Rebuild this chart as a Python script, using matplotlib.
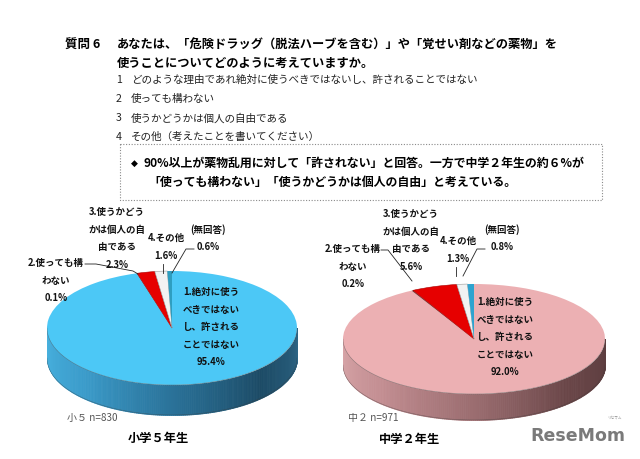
import numpy as np
import matplotlib
matplotlib.use('Agg')
import matplotlib.pyplot as plt
from matplotlib.colors import LinearSegmentedColormap
from matplotlib.patches import Rectangle

plt.rcParams['font.family'] = ['Noto Sans CJK JP', 'DejaVu Sans']

# 回答の選択肢と割合（%）
options = ['1.絶対に使う\nべきではない\nし、許される\nことではない',
           '2.使っても構\nわない',
           '3.使うかどう\nかは個人の自\n由である',
           '4.その他',
           '(無回答)']
shou5 = [95.4, 0.1, 2.3, 1.6, 0.6]
chu2 = [92.0, 0.2, 5.6, 1.3, 0.8]
groups = ['小学５年生', '中学２年生']
n_labels = ['小５ n=830', '中２ n=971']

question = ['あなたは、「危険ドラッグ（脱法ハーブを含む）」や「覚せい剤などの薬物」を',
            '使うことについてどのように考えていますか。']
items = ['どのような理由であれ絶対に使うべきではないし、許されることではない',
         '使っても構わない',
         '使うかどうかは個人の自由である',
         'その他（考えたことを書いてください）']
summary = ['90%以上が薬物乱用に対して「許されない」と回答。一方で中学２年生の約６%が',
           '「使っても構わない」「使うかどうかは個人の自由」と考えている。']

W, H = 640, 460
fig = plt.figure(figsize=(W / 100, H / 100), dpi=100)
fig.patch.set_facecolor('white')


def pie3d(cx, cy, a, b, depth, values, top_cols, side_cmap):
    # 楕円のパイ（上面）＋側面（グラデーション）
    ax = fig.add_axes([(cx - a) / W, 1 - (cy + b + depth) / H,
                       2 * a / W, (2 * b + depth) / H])
    d = depth / b
    th = np.linspace(np.pi, 2 * np.pi, 200)
    xs = np.cos(th)
    for i in range(len(th) - 1):
        xx = [xs[i], xs[i + 1]]
        top = np.sin(th[i:i + 2])
        c = side_cmap(i / (len(th) - 2))
        ax.fill_between(xx, top, top - d, color=c, linewidth=0.6, edgecolor=c)
    ax.plot(xs, np.sin(th) - d, color='#3a3a3a', lw=0.4, alpha=0.5)
    wedges, _ = ax.pie(values, colors=top_cols, startangle=90, counterclock=False,
                       radius=1, wedgeprops=dict(linewidth=0.4, edgecolor='none'))
    wedges[3].set_edgecolor('#999999')
    wedges[2].set_edgecolor('#aa0000')
    ax.plot(xs, np.sin(th), color='#555555', lw=0.4, alpha=0.6)
    ax.set_aspect('auto')
    ax.set_xlim(-1, 1)
    ax.set_ylim(-1 - d, 1)
    ax.axis('off')


blue_side = LinearSegmentedColormap.from_list('bs', ['#49b3e0', '#3b9ccb', '#2a7299', '#1c4b66', '#2d6585'])
pink_side = LinearSegmentedColormap.from_list('ps', ['#d9a7aa', '#c38e92', '#9b6d70', '#6a4648', '#5c3d3f'])

pie3d(172, 329, 125, 57, 30, shou5,
      ['#4cc8f6', '#1f6f90', '#e60000', '#f2f2f2', '#2e9ec0'], blue_side)
pie3d(474, 340, 131, 55, 26, chu2,
      ['#ecb0b3', '#7a3a3a', '#e60000', '#f2f2f2', '#2ea3cf'], pink_side)

# テキスト用のオーバーレイ（ピクセル座標）
ov = fig.add_axes([0, 0, 1, 1], facecolor='none')
ov.set_xlim(0, W)
ov.set_ylim(H, 0)
ov.axis('off')

ov.text(65, 45, '質問 6', fontsize=9, fontweight='bold', va='center')
ov.text(117, 45, question[0], fontsize=8.8, fontweight='bold', va='center')
ov.text(117, 63, question[1], fontsize=8.8, fontweight='bold', va='center')
for i, t in enumerate(items):
    y = 80 + i * 19
    ov.text(116, y, str(i + 1), fontsize=7.6, color='#222222', va='center')
    ov.text(131, y, t, fontsize=7.6, color='#222222', va='center')

ov.add_patch(Rectangle((120, 145), 482, 56, fill=False, ls=(0, (1, 1.5)),
                       lw=0.8, edgecolor='#8a8a8a'))
ov.text(131, 163, '◆', fontsize=6.5, va='center', family=['DejaVu Sans'])
ov.text(144, 163, summary[0], fontsize=8.6, fontweight='bold', va='center')
ov.text(148, 182, summary[1], fontsize=8.6, fontweight='bold', va='center')


def labels(vals, pos, leaders):
    for k, (x, y) in pos.items():
        txt = options[k] + '\n' + f'{vals[k]:.1f}%'
        ov.text(x, y, txt, fontsize=6.8, fontweight='bold', ha='center', va='top',
                linespacing=1.95, color='#111111')
    for pts in leaders:
        ov.plot([p[0] for p in pts], [p[1] for p in pts], color='#222222', lw=0.6)


labels(shou5,
       {0: (211, 287), 1: (56, 258), 2: (117, 207), 3: (166, 233), 4: (208, 224)},
       [[(85, 265), (96, 265), (133, 272), (138, 275)],
        [(163, 265), (163, 274)],
        [(172, 274), (186, 250), (194, 250)]])
labels(chu2,
       {0: (505, 297), 1: (353, 244), 2: (411, 209), 3: (458, 236), 4: (502, 224)},
       [[(381, 251), (388, 251), (412, 282)],
        [(456, 268), (456, 277)],
        [(463, 277), (477, 250), (485, 250)]])

ov.text(67, 418, n_labels[0], fontsize=7.2, color='#555555', va='center')
ov.text(348, 418, n_labels[1], fontsize=7.2, color='#555555', va='center')
ov.text(158, 438, groups[0], fontsize=8.8, fontweight='bold', ha='center', va='center')
ov.text(410, 440, groups[1], fontsize=8.8, fontweight='bold', ha='center', va='center')

ov.text(578, 436, 'ReseMom', fontsize=12.5, fontweight='bold', color='#7a7a7a',
        ha='center', va='center', family=['DejaVu Sans'])
ov.text(614, 418, 'リセマム', fontsize=2.6, color='#888888', ha='center', va='center')

fig.savefig('out.png', dpi=100)
